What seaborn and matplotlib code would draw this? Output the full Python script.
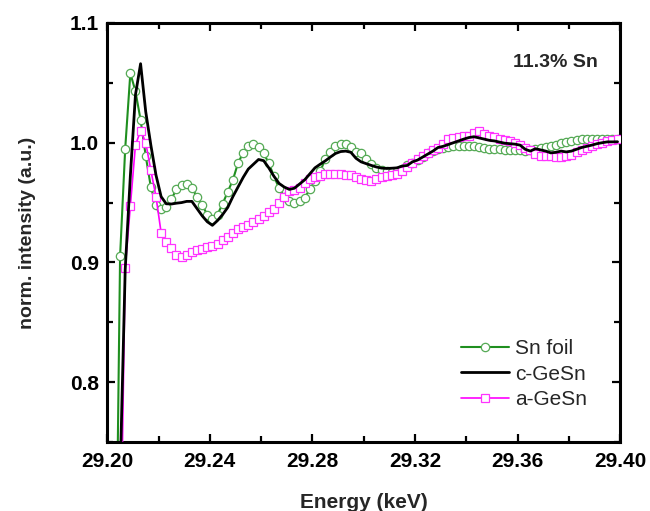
import numpy as np
import seaborn as sns
import matplotlib.pyplot as plt
from matplotlib.ticker import MultipleLocator, FormatStrFormatter

# energy grid (keV), 2 eV steps from 29.201 to 29.399
energy = np.round(np.arange(29.201, 29.4, 0.002), 3)

# normalised intensity, rows of 10 points (0.02 keV each)
sn_foil = [
    0.40, 0.55, 0.905, 0.995, 1.058, 1.043, 1.019, 0.989, 0.963, 0.948,
    0.945, 0.9465, 0.953, 0.961, 0.965, 0.9654, 0.962, 0.955, 0.948, 0.940,
    0.936, 0.940, 0.949, 0.959, 0.969, 0.983, 0.9915, 0.997, 0.9988, 0.9965,
    0.991, 0.983, 0.972, 0.962, 0.955, 0.951, 0.950, 0.951, 0.954, 0.961,
    0.968, 0.976, 0.986, 0.992, 0.997, 0.9993, 0.999, 0.9965, 0.9925, 0.991,
    0.9867, 0.982, 0.979, 0.977, 0.976, 0.9757, 0.9762, 0.978, 0.981, 0.983,
    0.9852, 0.988, 0.991, 0.993, 0.9947, 0.9955, 0.9967, 0.9973, 0.9973, 0.9973,
    0.9973, 0.997, 0.9963, 0.9955, 0.995, 0.9948, 0.9944, 0.994, 0.9938, 0.9938,
    0.9935, 0.993, 0.9938, 0.9945, 0.9958, 0.9967, 0.9972, 0.9983, 0.9995, 1.0005,
    1.0012, 1.002, 1.0027, 1.0032, 1.0035, 1.0035, 1.0035, 1.0035, 1.0033, 1.003,
]
c_gesn = [
    0.45, 0.58, 0.72, 0.894, 0.972, 1.040, 1.066, 1.026, 0.998, 0.973,
    0.955, 0.949, 0.9488, 0.9495, 0.950, 0.951, 0.951, 0.945, 0.939, 0.934,
    0.931, 0.935, 0.940, 0.946, 0.955, 0.963, 0.971, 0.978, 0.982, 0.986,
    0.985, 0.979, 0.972, 0.966, 0.963, 0.961, 0.962, 0.9655, 0.969, 0.974,
    0.979, 0.982, 0.9848, 0.988, 0.991, 0.9926, 0.993, 0.992, 0.987, 0.984,
    0.9825, 0.981, 0.9797, 0.9788, 0.9785, 0.9787, 0.979, 0.9805, 0.981, 0.984,
    0.9855, 0.988, 0.9905, 0.993, 0.996, 0.997, 0.9985, 1.0, 1.0015, 1.003,
    1.0043, 1.005, 1.004, 1.003, 1.002, 1.0015, 1.0005, 0.9996, 0.9992, 0.9988,
    0.998, 0.9945, 0.993, 0.995, 0.994, 0.993, 0.9915, 0.992, 0.993, 0.9923,
    0.993, 0.9945, 0.996, 0.997, 0.998, 0.9992, 1.0, 1.0007, 1.0007, 1.0008,
]
a_gesn = [
    0.40, 0.52, 0.62, 0.895, 0.947, 0.998, 1.010, 1.0, 0.977, 0.955,
    0.925, 0.917, 0.912, 0.906, 0.9045, 0.906, 0.909, 0.910, 0.911, 0.9125,
    0.914, 0.9155, 0.9185, 0.9215, 0.9245, 0.928, 0.9292, 0.931, 0.934, 0.936,
    0.939, 0.9418, 0.945, 0.9495, 0.955, 0.960, 0.9605, 0.9625, 0.966, 0.970,
    0.9715, 0.9725, 0.9735, 0.9737, 0.9737, 0.9735, 0.973, 0.9727, 0.9715, 0.9696,
    0.9685, 0.968, 0.9698, 0.971, 0.9725, 0.973, 0.9735, 0.9765, 0.980, 0.983,
    0.9862, 0.9885, 0.9918, 0.994, 0.996, 0.999, 1.0028, 1.004, 1.0047, 1.0055,
    1.006, 1.0085, 1.0095, 1.0075, 1.0055, 1.0045, 1.003, 1.0025, 1.0013, 0.9995,
    0.998, 0.996, 0.9935, 0.9905, 0.9893, 0.989, 0.989, 0.988, 0.988, 0.9888,
    0.9898, 0.992, 0.994, 0.9955, 0.9975, 0.999, 1.0, 1.0012, 1.002, 1.003,
]

sns.set_theme(style="ticks")
plt.rcParams['font.family'] = ['Liberation Sans', 'DejaVu Sans']

fig, ax = plt.subplots(figsize=(6.5, 5.11), dpi=100)
fig.subplots_adjust(left=0.165, right=0.954, top=0.955, bottom=0.135)

sns.lineplot(x=energy, y=sn_foil, ax=ax, color="#1f8f1f", linewidth=1.5,
             marker="o", markersize=6, markerfacecolor="white",
             markeredgecolor="#55aa55", markeredgewidth=0.9,
             label="Sn foil", zorder=2)
sns.lineplot(x=energy, y=c_gesn, ax=ax, color="black", linewidth=2.0,
             label="c-GeSn", zorder=4)
sns.lineplot(x=energy, y=a_gesn, ax=ax, color="#ff00ff", linewidth=1.2,
             marker="s", markersize=5.5, markerfacecolor="white",
             markeredgecolor="#ff33ff", markeredgewidth=0.9,
             label="a-GeSn", zorder=3)

ax.set_xlim(29.20, 29.40)
ax.set_ylim(0.75, 1.1)
ax.xaxis.set_major_locator(MultipleLocator(0.04))
ax.xaxis.set_minor_locator(MultipleLocator(0.02))
ax.yaxis.set_major_locator(MultipleLocator(0.1))
ax.yaxis.set_minor_locator(MultipleLocator(0.05))
ax.xaxis.set_major_formatter(FormatStrFormatter('%.2f'))
ax.yaxis.set_major_formatter(FormatStrFormatter('%.1f'))

ax.tick_params(which='both', direction='in', top=True, right=True,
               width=1.6, colors='black')
ax.tick_params(which='major', length=6, labelsize=15)
ax.tick_params(axis='x', which='major', pad=7)
ax.tick_params(axis='y', which='major', pad=6)
ax.tick_params(which='minor', length=4)
for lab in ax.get_xticklabels() + ax.get_yticklabels():
    lab.set_fontweight('bold')

for side in ax.spines.values():
    side.set_linewidth(2.2)
    side.set_color('black')

ax.set_xlabel("Energy (keV)", fontsize=15, fontweight='bold', labelpad=16)
ax.set_ylabel("norm. intensity (a.u.)", fontsize=14, fontweight='bold', labelpad=24)

ax.text(0.873, 0.905, "11.3% Sn", transform=ax.transAxes, ha='center',
        va='center', fontsize=14, fontweight='bold')

ax.legend(loc='upper left', bbox_to_anchor=(0.69, 0.245), frameon=False,
          fontsize=15, handlelength=2.3, handletextpad=0.3, labelspacing=0.3,
          borderpad=0, borderaxespad=0)

fig.savefig("out.png", dpi=100)
